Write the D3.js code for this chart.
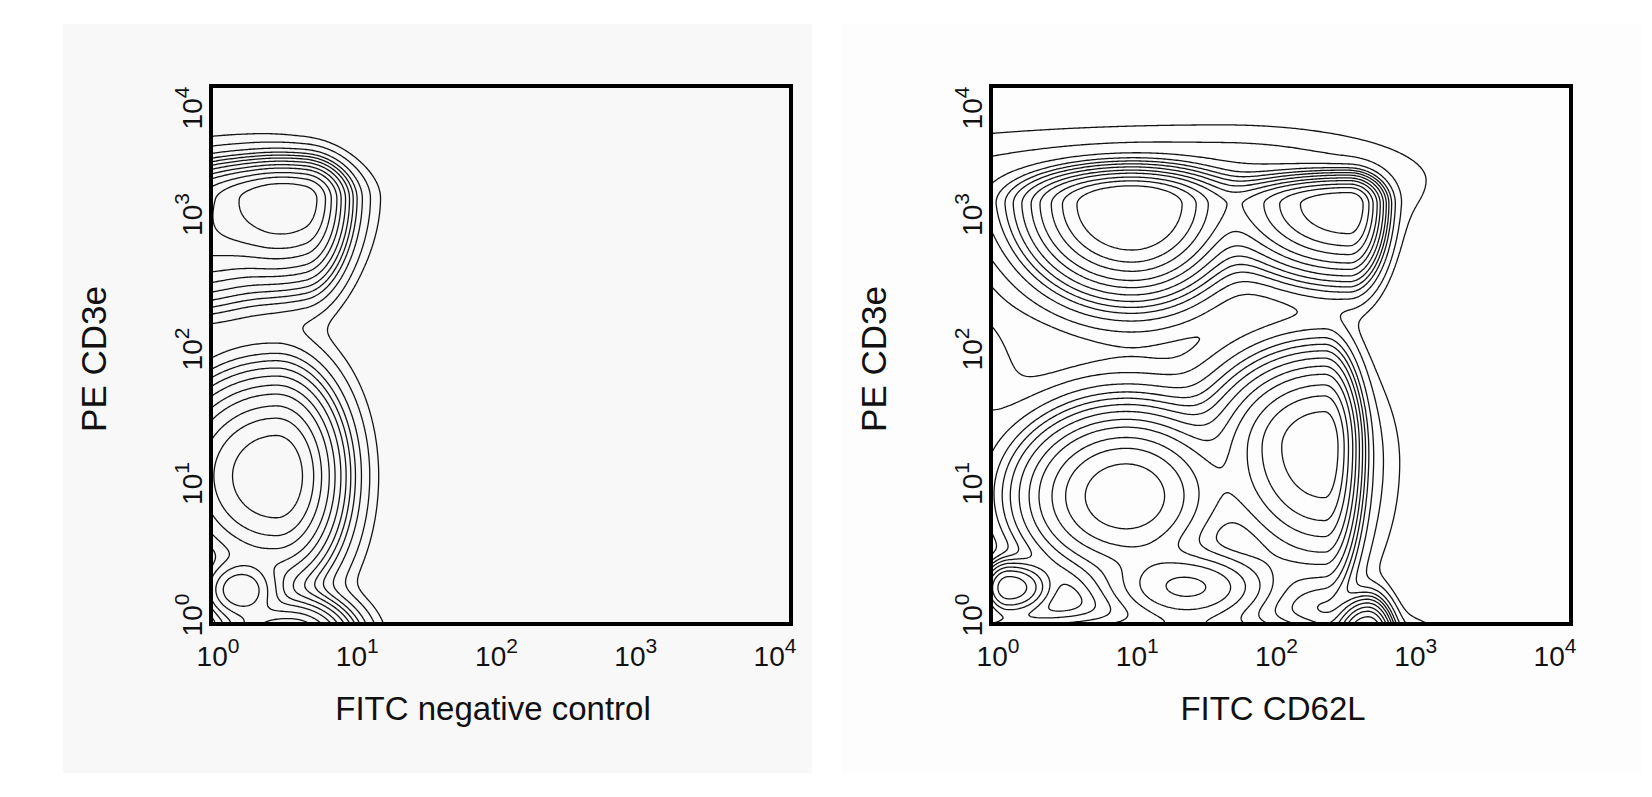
<!DOCTYPE html>
<html>
<head>
<meta charset="utf-8">
<script src="https://cdn.jsdelivr.net/npm/d3@7"></script>
<style>
  body { margin: 0; background: #fff; }
  svg text { font-family: "Liberation Sans", Arial, sans-serif; fill: #111; }
  .contour { fill: none; stroke: #141414; stroke-width: 1.3; }
  .frame { fill: none; stroke: #000; stroke-width: 4; }
</style>
</head>
<body>
<div id="chart"></div>
<script>
// tick exponents of the log axes (10^0 ... 10^4)
const tickExponents = [0, 1, 2, 3, 4];
const xTitles = ["FITC negative control", "FITC CD62L"];
const yTitle = "PE CD3e";

// cell populations, in decades:
// [log10 FITC, log10 PE, sd left, sd right, sd below, sd above, weight]
const controlPopulations = [
  [0.35, 3.16, 0.35, 0.25, 0.29, 0.13, 0.60],
  [0.65, 3.16, 0.25, 0.13, 0.29, 0.13, 0.60],
  [-0.20, 2.80, 0.30, 0.30, 0.25, 0.20, 0.25],
  [0.30, 3.30, 0.60, 0.35, 0.30, 0.20, 0.012],
  [0.45, 1.10, 0.35, 0.21, 0.36, 0.35, 1.00],
  [0.20, 0.25, 0.14, 0.14, 0.12, 0.12, 0.60],
  [0.55, -0.12, 0.25, 0.20, 0.15, 0.15, 0.80]
];

const cd62lPopulations = [
  [0.97, 3.12, 0.33, 0.30, 0.30, 0.12, 1.30],
  [2.47, 3.12, 0.38, 0.11, 0.25, 0.10, 1.00],
  [1.60, 3.30, 1.60, 0.75, 0.30, 0.22, 0.02],
  [2.30, 1.32, 0.35, 0.11, 0.45, 0.31, 0.95],
  [2.30, 1.20, 0.40, 0.25, 0.50, 0.40, 0.03],
  [0.93, 0.95, 0.35, 0.33, 0.30, 0.30, 0.95],
  [1.36, 0.27, 0.30, 0.30, 0.15, 0.15, 0.72],
  [0.12, 0.27, 0.09, 0.15, 0.10, 0.10, 0.45],
  [2.60, -0.15, 0.10, 0.08, 0.15, 0.15, 0.80],
  [1.30, -0.20, 1.10, 0.60, 0.15, 0.15, 0.50],
  [-0.30, 1.80, 0.28, 0.28, 0.50, 0.35, 0.012]
];

// density levels of the contour lines
const contourLevels = [0.69, 0.47, 0.33, 0.22, 0.155, 0.105, 0.072, 0.05, 0.034, 0.02, 0.009, 0.0035];

const width = 1652;
const height = 797;

const svg = d3.select("#chart")
  .append("svg")
  .attr("width", width)
  .attr("height", height);

const panels = [
  { pops: controlPopulations, title: xTitles[0], bg: [63, 24, 749, 749], fill: "#f8f8f8", left: 211 },
  { pops: cd62lPopulations, title: xTitles[1], bg: [842, 24, 800, 749], fill: "#fdfdfd", left: 991 }
];

const plotW = 580;
const plotTop = 86;
const plotBottom = 624;

function density(pops, dx, dy) {
  let s = 0;
  for (const p of pops) {
    const ex = dx - p[0];
    const ey = dy - p[1];
    const sx = ex < 0 ? p[2] : p[3];
    const sy = ey < 0 ? p[4] : p[5];
    s += p[6] * Math.exp(-0.5 * (ex * ex) / (sx * sx) - 0.5 * (ey * ey) / (sy * sy));
  }
  return s;
}

panels.forEach((panel, k) => {
  const g = svg.append("g");

  g.append("rect")
    .attr("x", panel.bg[0])
    .attr("y", panel.bg[1])
    .attr("width", panel.bg[2])
    .attr("height", panel.bg[3])
    .attr("fill", panel.fill);

  const xScale = d3.scaleLog().domain([1, 1e4]).range([panel.left, panel.left + plotW]);
  const yScale = d3.scaleLog().domain([1, 1e4]).range([plotBottom, plotTop]);

  // sample grid in decades, a bit wider than the plot so edge rings get clipped
  const lo = -0.4, hi = 4.4, step = 0.012;
  const n = Math.round((hi - lo) / step) + 1;
  const values = new Float64Array(n * n);
  for (let j = 0; j < n; j++) {
    for (let i = 0; i < n; i++) {
      values[i + j * n] = density(panel.pops, lo + i * step, lo + j * step);
    }
  }

  const contours = d3.contours().size([n, n]).thresholds(contourLevels)(values);

  const proj = d3.geoTransform({
    point: function (gx, gy) {
      const dx = lo + (gx - 0.5) * step;
      const dy = lo + (gy - 0.5) * step;
      this.stream.point(xScale(Math.pow(10, dx)), yScale(Math.pow(10, dy)));
    }
  });
  const path = d3.geoPath(proj);

  const clipId = "clip" + k;
  g.append("clipPath").attr("id", clipId)
    .append("rect")
    .attr("x", panel.left)
    .attr("y", plotTop)
    .attr("width", plotW)
    .attr("height", plotBottom - plotTop);

  g.append("g")
    .attr("clip-path", `url(#${clipId})`)
    .selectAll("path")
    .data(contours)
    .join("path")
    .attr("class", "contour")
    .attr("d", path);

  g.append("rect")
    .attr("class", "frame")
    .attr("x", panel.left)
    .attr("y", plotTop)
    .attr("width", plotW)
    .attr("height", plotBottom - plotTop);

  // tick labels sit slightly inside the decade positions, as in the original
  const xLabel = d3.scaleLog().domain([1, 1e4]).range([panel.left + 7, panel.left + plotW - 16]);
  const xt = g.selectAll(".xtick")
    .data(tickExponents)
    .join("text")
    .attr("class", "xtick")
    .attr("x", d => xLabel(Math.pow(10, d)))
    .attr("y", plotBottom + 42)
    .attr("text-anchor", "middle")
    .style("font-size", "28px");
  xt.append("tspan").text("10");
  xt.append("tspan").attr("dy", -13).style("font-size", "21px").text(d => d);

  const yLabel = d => Math.min(Math.max(yScale(Math.pow(10, d)) - 6, plotTop + 22), plotBottom - 9);
  const yt = g.selectAll(".ytick")
    .data(tickExponents)
    .join("text")
    .attr("class", "ytick")
    .attr("transform", d => `translate(${panel.left - 9},${yLabel(d)}) rotate(-90)`)
    .attr("text-anchor", "middle")
    .style("font-size", "28px");
  yt.append("tspan").text("10");
  yt.append("tspan").attr("dy", -13).style("font-size", "21px").text(d => d);

  g.append("text")
    .attr("x", panel.left + plotW / 2 - 8)
    .attr("y", plotBottom + 96)
    .attr("text-anchor", "middle")
    .style("font-size", "33px")
    .text(panel.title);

  g.append("text")
    .attr("transform", `translate(${panel.left - 105},${(plotTop + plotBottom) / 2 + 4}) rotate(-90)`)
    .attr("text-anchor", "middle")
    .style("font-size", "35px")
    .text(yTitle);
});
</script>
</body>
</html>
